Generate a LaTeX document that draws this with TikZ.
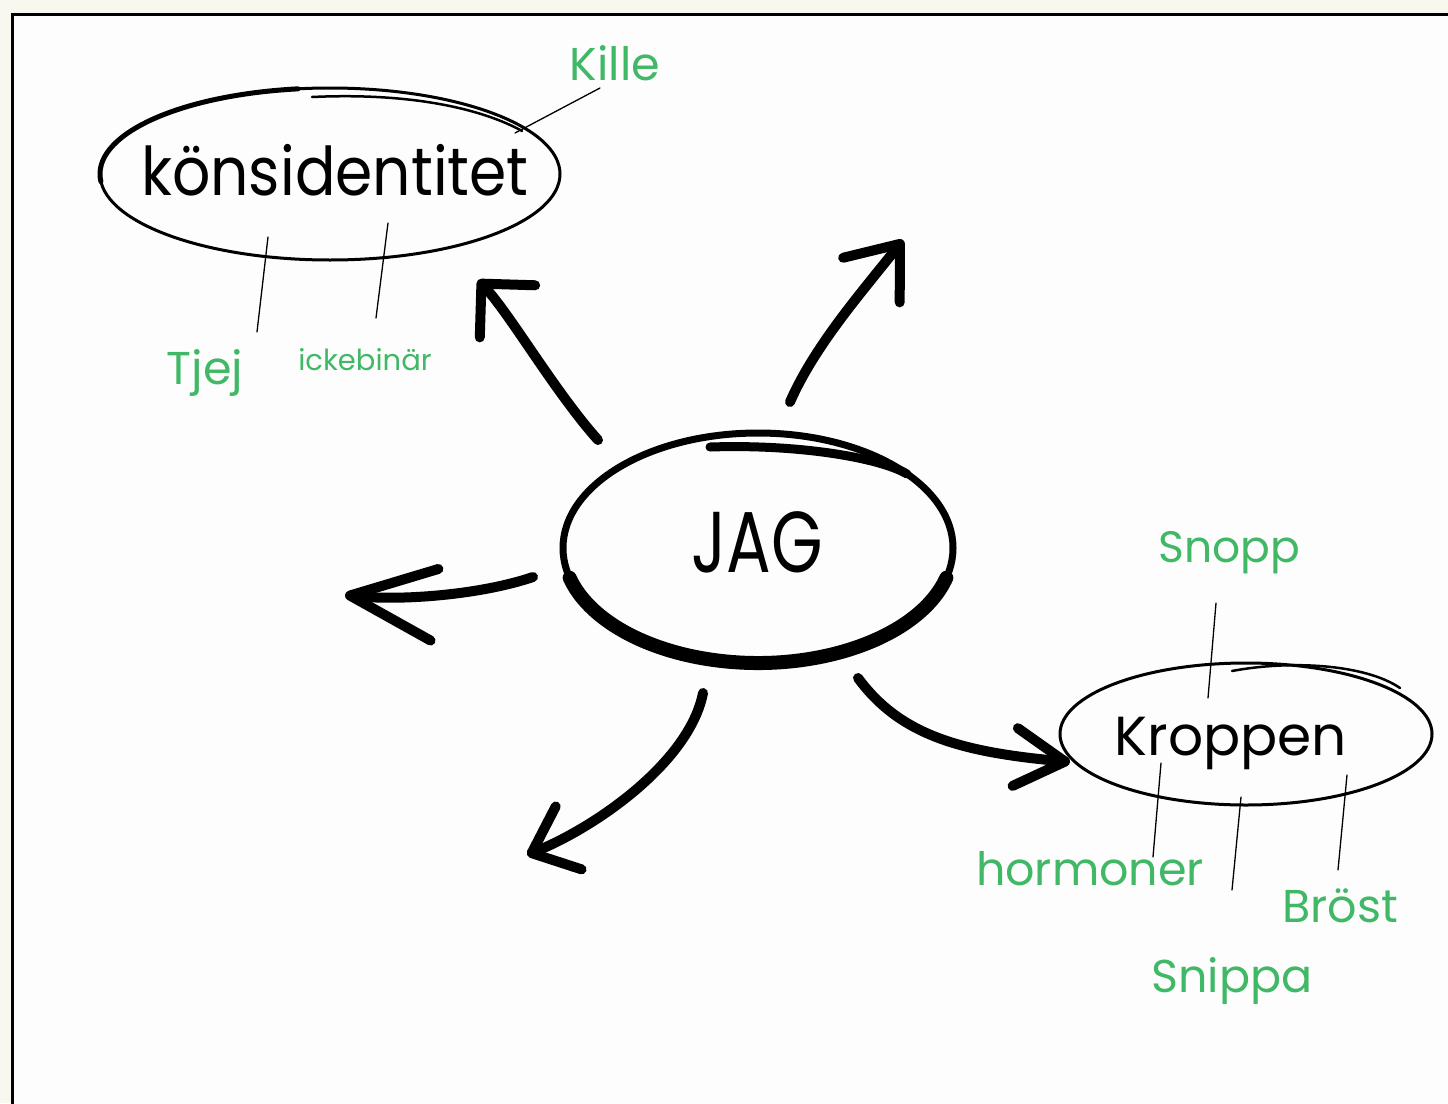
\documentclass[tikz,border=0pt]{standalone}
\usepackage{fontspec}
\setmainfont{Poppins}
\usetikzlibrary{arrows.meta}
\definecolor{cream}{HTML}{F9F8EE}
\definecolor{paper}{HTML}{FDFDFD}
\definecolor{lbl}{HTML}{40B866}
\begin{document}
\begin{tikzpicture}[x=1pt,y=-1pt,
  hand/.style={draw=black, line cap=round, line join=round},
  arr/.style={line width=10, line cap=round, line join=round},
  tick/.style={draw=black, line width=1.3, line cap=round},
  green/.style={text=lbl, anchor=base, inner sep=0pt, font=\fontsize{46}{46}\selectfont},
  title/.style={text=black, anchor=base, inner sep=0pt}]
\useasboundingbox (0,0) rectangle (1448,1103);
\fill[cream] (0,0) rectangle (1448,1103);
\fill[paper] (12,14) rectangle (1448,1103);
\draw[line width=3] (12,1104) -- (12,14) -- (1449,14);

% main texts
\node[title, font=\fontsize{60}{60}\selectfont] (kons) at (335,195) {\scalebox{1}[1.12]{könsidentitet}};
\node[title, font=\fontsize{72}{72}\selectfont] (jag) at (757,572) {\scalebox{0.92}[1.2]{JAG}};
\node[title, font=\fontsize{55}{55}\selectfont] (kropp) at (1231,755) {Kroppen};

% labels
\node[green] (kille) at (615,80) {Kille};
\node[green] (tjej) at (205,384) {Tjej};
\node[green, font=\fontsize{29}{29}\selectfont] (icke) at (365,370) {ickebinär};
\node[green, font=\fontsize{44}{44}\selectfont] (snopp) at (1229,562) {Snopp};
\node[green] (horm) at (1090,885) {hormoner};
\node[green] (brost) at (1340,922) {Bröst};
\node[green] (snippa) at (1232,992) {Snippa};

% ellipses (hand drawn)
\coordinate (konsC) at (330,174);
\coordinate (jagC) at (758,548);
\coordinate (kroppC) at (1246,734);

\draw[hand, line width=3] (konsC) ellipse[x radius=230, y radius=86];
\draw[hand, line width=5] ([shift={(175:230 and 86)}]konsC) arc[start angle=175, end angle=262, x radius=230, y radius=86];
\draw[hand, line width=2.5] (312,97) .. controls (420,92) and (488,112) .. (522,131);

\draw[hand, line width=7] (jagC) ellipse[x radius=195, y radius=115];
\draw[hand, line width=14] ([shift={(15:195 and 115)}]jagC) arc[start angle=15, end angle=165, x radius=195, y radius=115];
\draw[hand, line width=9] (710,447) .. controls (800,444) and (880,458) .. (907,474);

\draw[hand, line width=3] (kroppC) ellipse[x radius=186, y radius=71];
\draw[hand, line width=2.5] (1232,671) .. controls (1290,660) and (1365,664) .. (1400,688);

% label ticks
\coordinate (killeA) at (600,88);   \coordinate (killeB) at (515,133);
\coordinate (tjejA) at (268,237);   \coordinate (tjejB) at (257,332);
\coordinate (ickeA) at (388,223);   \coordinate (ickeB) at (376,318);
\coordinate (snoppA) at (1216,603); \coordinate (snoppB) at (1208,698);
\coordinate (hormA) at (1161,763);  \coordinate (hormB) at (1153,857);
\coordinate (snipA) at (1241,797);  \coordinate (snipB) at (1232,890);
\coordinate (brostA) at (1347,775); \coordinate (brostB) at (1338,870);
\draw[tick] (killeA) -- (killeB);
\draw[tick] (tjejA) -- (tjejB);
\draw[tick] (ickeA) -- (ickeB);
\draw[tick] (snoppA) -- (snoppB);
\draw[tick] (hormA) -- (hormB);
\draw[tick] (snipA) -- (snipB);
\draw[tick] (brostA) -- (brostB);

% arrows
\coordinate (a1s) at (598,440); \coordinate (a1e) at (478,280);
\coordinate (a2s) at (790,402); \coordinate (a2e) at (903,240);
\coordinate (a3s) at (533,577); \coordinate (a3e) at (345,595);
\coordinate (a4s) at (703,693); \coordinate (a4e) at (527,855);
\coordinate (a5s) at (858,678); \coordinate (a5e) at (1070,762);

\draw[arr, -{Straight Barb[length=38pt,width=76pt,line cap=round,line join=round]}]
  (a1s) .. controls (555,392) and (510,314) .. (a1e);
\draw[arr, -{Straight Barb[length=46pt,width=72pt,line cap=round,line join=round]}]
  (a2s) .. controls (815,345) and (862,292) .. (a2e);
\draw[arr, -{Straight Barb[length=85pt,width=72pt,line cap=round,line join=round]}]
  (a3s) .. controls (480,595) and (400,601) .. (a3e);
\draw[arr, -{Straight Barb[length=40pt,width=68pt,line cap=round,line join=round]}]
  (a4s) .. controls (690,760) and (600,825) .. (a4e);
\draw[arr, -{Straight Barb[length=50pt,width=58pt,line cap=round,line join=round]}]
  (a5s) .. controls (900,735) and (960,752) .. (a5e);
\end{tikzpicture}
\end{document}
